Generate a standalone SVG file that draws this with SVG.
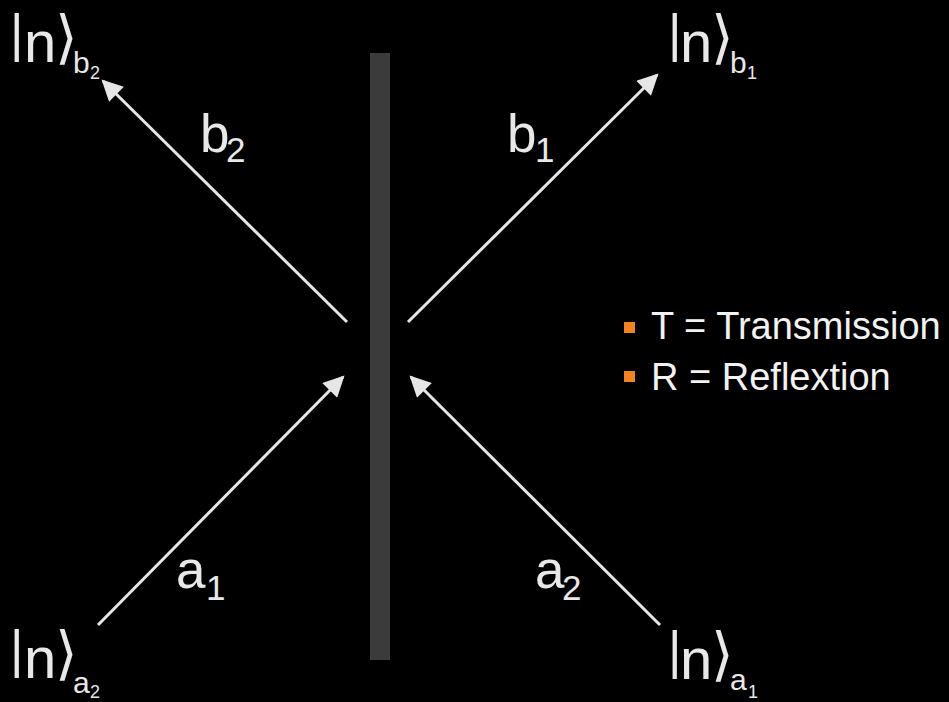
<svg xmlns="http://www.w3.org/2000/svg" width="949" height="702" viewBox="0 0 949 702">
<style>
.lbl{font-family:"Liberation Sans",Arial,sans-serif;fill:#e8e8e8}
.ket{font-family:"Liberation Sans",Arial,sans-serif;fill:#e8e8e8}
.br{font-family:"DejaVu Sans",sans-serif;font-weight:200}
.leg{font-family:"Liberation Sans",Arial,sans-serif;fill:#f2f2f2;font-size:38px}
.arr{stroke:#e6e6e6;stroke-width:3;fill:none;marker-end:url(#ah)}
</style>
<defs>
<marker id="ah" viewBox="0 0 10 10" refX="9" refY="5" markerWidth="8" markerHeight="7" markerUnits="strokeWidth" orient="auto">
<path d="M0,0 L10,5 L0,10 Z" fill="#e6e6e6"/>
</marker>
</defs>
<rect width="949" height="702" fill="#000"/>
<g id="beamsplitter"><rect x="370" y="53" width="20" height="607" fill="#3b3b3b"/></g>
<g id="connectors">
<line class="arr" x1="347" y1="322" x2="103" y2="81"/>
<line class="arr" x1="408" y1="322" x2="657" y2="75"/>
<line class="arr" x1="98" y1="625" x2="343" y2="377"/>
<line class="arr" x1="660" y1="625" x2="411" y2="377"/>
</g>
<g id="ket-b2"><text class="ket"><tspan x="10" y="51" font-size="52">|</tspan><tspan x="24" y="62" font-size="58">n</tspan><tspan class="br" x="55" y="57" font-size="58">⟩</tspan><tspan x="73" y="73" font-size="30">b</tspan><tspan x="90" y="79" font-size="18">2</tspan></text></g>
<g id="ket-b1"><text class="ket"><tspan x="668" y="51" font-size="52">|</tspan><tspan x="680" y="62" font-size="58">n</tspan><tspan class="br" x="711" y="57" font-size="58">⟩</tspan><tspan x="730" y="73" font-size="30">b</tspan><tspan x="747" y="79" font-size="18">1</tspan></text></g>
<g id="ket-a2"><text class="ket"><tspan x="10" y="667" font-size="52">|</tspan><tspan x="24" y="678" font-size="58">n</tspan><tspan class="br" x="55" y="673" font-size="58">⟩</tspan><tspan x="73" y="693" font-size="30">a</tspan><tspan x="90" y="698" font-size="18">2</tspan></text></g>
<g id="ket-a1"><text class="ket"><tspan x="668" y="668" font-size="52">|</tspan><tspan x="680" y="679" font-size="58">n</tspan><tspan class="br" x="711" y="674" font-size="58">⟩</tspan><tspan x="730" y="690" font-size="30">a</tspan><tspan x="748" y="698" font-size="18">1</tspan></text></g>
<g id="label-b2"><text class="lbl"><tspan x="200" y="152" font-size="53">b</tspan><tspan x="226" y="162" font-size="35">2</tspan></text></g>
<g id="label-b1"><text class="lbl"><tspan x="507" y="152" font-size="53">b</tspan><tspan x="535" y="162" font-size="35">1</tspan></text></g>
<g id="label-a1"><text class="lbl"><tspan x="176" y="588" font-size="53">a</tspan><tspan x="206" y="600" font-size="35">1</tspan></text></g>
<g id="label-a2"><text class="lbl"><tspan x="535" y="588" font-size="53">a</tspan><tspan x="562" y="600" font-size="35">2</tspan></text></g>
<g id="legend">
<rect x="624" y="322" width="11" height="11" fill="#f08322"/>
<text class="leg" x="651" y="339">T = Transmission</text>
<rect x="624" y="371" width="11" height="11" fill="#f08322"/>
<text class="leg" x="651" y="390">R = Reflextion</text>
</g>
</svg>
